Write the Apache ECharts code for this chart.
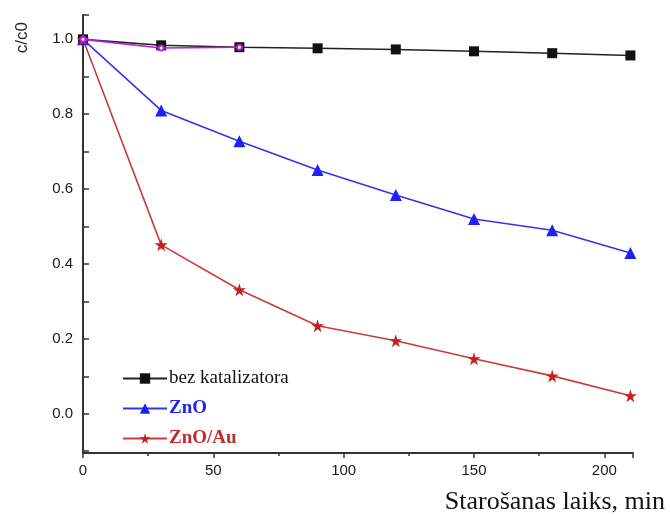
<!DOCTYPE html>
<html>
<head>
<meta charset="utf-8">
<script src="https://cdn.jsdelivr.net/npm/echarts@6/dist/echarts.min.js"></script>
<style>html,body{margin:0;padding:0;background:#fff}#c{width:670px;height:517px}</style>
</head>
<body>
<div id="c"></div>
<script>
const times = [0, 30, 60, 90, 120, 150, 180, 210];
const bezKatalizatora = [1.0, 0.984, 0.979, 0.976, 0.973, 0.968, 0.963, 0.957];
const znO = [1.0, 0.81, 0.728, 0.651, 0.584, 0.52, 0.49, 0.429];
const znOAu = [1.0, 0.451, 0.331, 0.235, 0.195, 0.147, 0.101, 0.048];
const extraTimes = [0, 30, 60];
const extraSeries = [1.0, 0.977, 0.979];
const seriesNames = ['bez katalizatora', 'ZnO', 'ZnO/Au'];
const yAxisTitle = 'c/c0';
const xAxisTitle = 'Starošanas laiks, min';

const pairs = (xs, ys) => xs.map((x, i) => [x, ys[i]]);
const chart = echarts.init(document.getElementById('c'));
const axisColor = '#333';
chart.setOption({
  animation: false,
  backgroundColor: '#fff',
  grid: { left: 83, right: 37, top: 15, bottom: 64 },
  xAxis: {
    type: 'value', min: 0, max: 211, interval: 50,
    axisLine: { onZero: false, lineStyle: { color: axisColor, width: 2 } },
    axisTick: { inside: false, length: 5, lineStyle: { color: axisColor, width: 1.5 } },
    minorTick: { show: true, splitNumber: 2, length: 3, lineStyle: { color: axisColor, width: 1.5 } },
    axisLabel: { color: '#1a1a1a', fontFamily: 'Liberation Sans', fontSize: 15, margin: 10, showMaxLabel: false },
    splitLine: { show: false }
  },
  yAxis: {
    type: 'value', min: -0.105, max: 1.065, splitNumber: 5,
    axisLine: { show: true, onZero: false, lineStyle: { color: axisColor, width: 2 } },
    axisTick: { show: true, inside: true, length: 6, lineStyle: { color: axisColor, width: 1.5 } },
    minorTick: { show: true, splitNumber: 2, length: 6, lineStyle: { color: axisColor, width: 1.5 } },
    axisLabel: { color: '#1a1a1a', fontFamily: 'Liberation Sans', fontSize: 15, margin: 10,
      showMinLabel: false, showMaxLabel: false,
      formatter: v => v.toFixed(1) },
    splitLine: { show: false }
  },
  legend: {
    data: [
      { name: seriesNames[0], textStyle: { color: '#111', fontWeight: 'normal' } },
      { name: seriesNames[1], textStyle: { color: '#2424e8', fontWeight: 'bold' } },
      { name: seriesNames[2], textStyle: { color: '#c42a2a', fontWeight: 'bold' } }
    ],
    orient: 'vertical', left: 117, top: 364,
    itemWidth: 44, itemHeight: 13, itemGap: 11,
    textStyle: { fontFamily: 'Liberation Serif', fontSize: 19, padding: [0, 0, 0, -3] }
  },
  graphic: [
    { type: 'text', left: 14, top: 22, rotation: Math.PI / 2,
      style: { text: yAxisTitle, fill: '#222', font: '17px "Liberation Sans"' } },
    { type: 'text', right: 5, top: 489,
      style: { text: xAxisTitle, fill: '#111', font: '26px "Liberation Serif"' } }
  ],
  series: [
    { name: seriesNames[0], type: 'line', data: pairs(times, bezKatalizatora),
      symbol: 'rect', symbolSize: 10, color: '#111',
      lineStyle: { width: 1.6, color: '#222' }, itemStyle: { color: '#111' }, z: 3 },
    { name: 'extra', type: 'line', data: pairs(extraTimes, extraSeries),
      symbol: 'emptyCircle', symbolSize: 5, lineStyle: { width: 1.6, color: '#b421d8' },
      itemStyle: { color: '#b421d8', borderWidth: 1.5 }, z: 4 },
    { name: seriesNames[1], type: 'line', data: pairs(times, znO),
      symbol: 'triangle', symbolSize: 12, color: '#2424ee',
      lineStyle: { width: 1.6, color: '#3434e8' }, itemStyle: { color: '#2020f0' }, z: 3 },
    { name: seriesNames[2], type: 'line', data: pairs(times, znOAu),
      symbol: 'path://M50,0 L61,35 L98,35 L68,57 L79,91 L50,70 L21,91 L32,57 L2,35 L39,35 Z',
      symbolSize: 13, color: '#c42a2a',
      lineStyle: { width: 1.6, color: '#cc3a3a' }, itemStyle: { color: '#c42020' }, z: 3 }
  ]
});
</script>
</body>
</html>
